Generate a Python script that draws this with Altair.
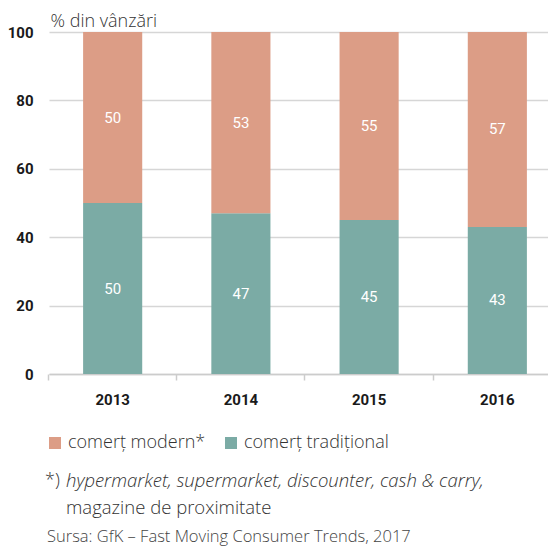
import altair as alt
import pandas as pd

years = ["2013", "2014", "2015", "2016"]
modern = [50, 53, 55, 57]
traditional = [50, 47, 45, 43]
series = ["comerț modern*", "comerț tradițional"]
colors = ["#DC9D86", "#7BABA5"]
y_ticks = [0, 20, 40, 60, 80, 100]
y_title = "% din vânzări"
note_mark = "*)"
note_line1 = "hypermarket, supermarket, discounter, cash & carry,"
note_line2 = "magazine de proximitate"
source = "Sursa: GfK – Fast Moving Consumer Trends, 2017"

rows = []
for yr, m, t in zip(years, modern, traditional):
    rows.append({"an": yr, "tip": series[1], "val": t, "ord": 0})
    rows.append({"an": yr, "tip": series[0], "val": m, "ord": 1})
df = pd.DataFrame(rows)

COND = "Roboto, sans-serif"
LIGHT = "Open Sans, Noto Sans, sans-serif"

W, H = 499, 342

xscale = alt.Scale(range=[0, 512], paddingInner=0.539, paddingOuter=0.266)
base = alt.Chart(df).transform_stack(
    stack="val", as_=["v0", "v1"], groupby=["an"], sort=[alt.SortField("ord")]
).transform_calculate(mid="(datum.v0 + datum.v1) / 2")

bars = base.mark_bar().encode(
    x=alt.X("an:N", scale=xscale, title=None,
            axis=alt.Axis(labelAngle=0, labelFont=COND, labelFontWeight="bold",
                          labelFontSize=15, labelColor="#1a1a1a", labelPadding=12,
                          domainColor="#cccccc", domainWidth=1.5, tickColor="#cccccc",
                          tickWidth=1.5, tickSize=6, bandPosition=-0.585, grid=False)),
    y=alt.Y("v0:Q", scale=alt.Scale(domain=[0, 100]), title=y_title,
            axis=alt.Axis(values=y_ticks, domain=False, ticks=False, labelFont=COND,
                          labelFontWeight="bold", labelFontSize=15, labelColor="#1a1a1a",
                          labelPadding=16, gridColor="#d6d6d6", gridWidth=1.5,
                          titleAngle=0, titleX=1, titleY=-6, titleAlign="left",
                          titleBaseline="alphabetic", titleFont=LIGHT, titleFontWeight=300,
                          titleFontSize=18, titleColor="#333333")),
    y2="v1:Q",
    color=alt.Color("tip:N", scale=alt.Scale(domain=series, range=colors), title=None,
                    legend=alt.Legend(orient="none", legendX=-3, legendY=402,
                                      direction="horizontal", symbolType="square",
                                      symbolSize=144, symbolStrokeWidth=0,
                                      labelFont=LIGHT, labelFontWeight=300,
                                      labelFontSize=18, labelColor="#333333",
                                      labelOffset=4, columnPadding=16)),
)

labels = base.mark_text(font=COND, fontSize=15, color="white").encode(
    x=alt.X("an:N", scale=xscale),
    y=alt.Y("mid:Q"),
    text=alt.Text("val:Q"),
)


def txt(s, x, y, style=None, size=18, color="#333333", baseline="middle"):
    kw = dict(font=LIGHT, fontSize=size, color=color, align="left", baseline=baseline,
              fontWeight=300)
    if style:
        kw["fontStyle"] = style
    return alt.Chart(pd.DataFrame({"t": [s]})).mark_text(**kw).encode(
        x=alt.value(x), y=alt.value(y), text="t:N")


chart = alt.layer(
    bars, labels,
    txt(note_mark, -4, 449),
    txt(note_line1, 17, 449, style="italic", size=18.5),
    txt(note_line2, 17, 476, size=18.5),
    txt(source, -2, 510, size=16.5, color="#444444", baseline="alphabetic"),
).properties(
    width=W, height=H,
    autosize=alt.AutoSizeParams(type="none"),
    padding={"left": 41, "top": 24, "right": 0, "bottom": 172},
).configure_view(stroke=None)

chart.save("out.html", embed_options={"renderer": "svg", "actions": False})
